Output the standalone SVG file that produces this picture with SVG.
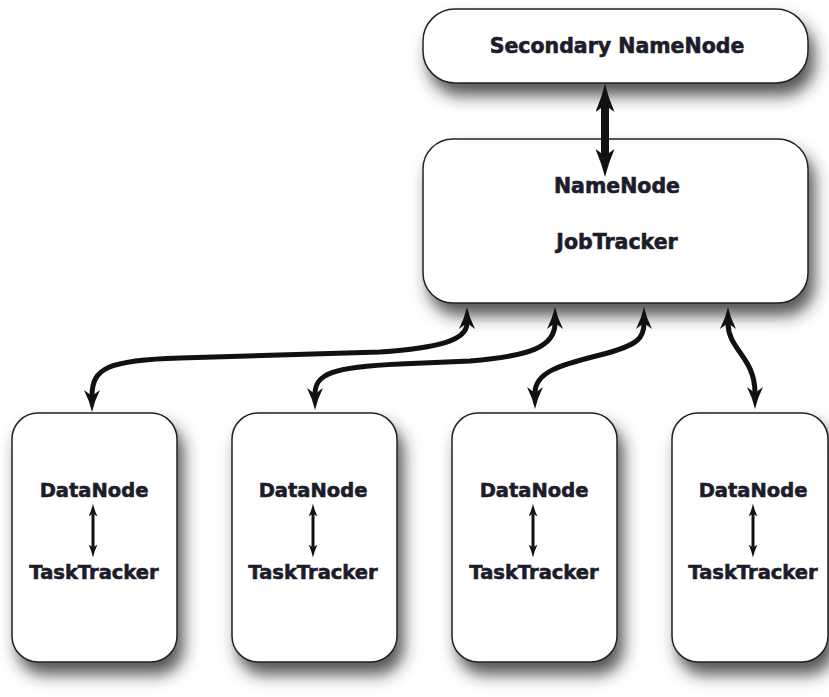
<svg xmlns="http://www.w3.org/2000/svg" width="829" height="697" viewBox="0 0 829 697">
<defs>
<filter id="sh" x="-20%" y="-20%" width="150%" height="160%">
<feDropShadow dx="6" dy="12" stdDeviation="8" flood-color="#2a2a2a" flood-opacity="0.8"/>
</filter>
<marker id="ah" viewBox="0 0 22 16" refX="6" refY="8" markerWidth="22" markerHeight="16" markerUnits="userSpaceOnUse" orient="auto-start-reverse">
<path d="M0,0 Q11,5.5 22,8 Q11,10.5 0,16 L6,8 Z" fill="#111"/>
</marker>
<marker id="ahs" viewBox="0 0 13 9" refX="3" refY="4.5" markerWidth="13" markerHeight="9" markerUnits="userSpaceOnUse" orient="auto-start-reverse">
<path d="M0,0 Q6,3 13,4.5 Q6,6 0,9 L3,4.5 Z" fill="#111"/>
</marker>
<marker id="ahb" viewBox="0 0 28 19" refX="7" refY="9.5" markerWidth="28" markerHeight="19" markerUnits="userSpaceOnUse" orient="auto-start-reverse">
<path d="M0,0 Q14,6 28,9.5 Q14,13 0,19 L7,9.5 Z" fill="#111"/>
</marker>
</defs>
<style>
.box{fill:#fff;stroke:#222;stroke-width:1.5;filter:url(#sh)}
.t{font-family:"DejaVu Sans","Liberation Sans",sans-serif;font-weight:bold;fill:#1c1c2a;stroke:#1c1c2a;stroke-width:0.6;text-anchor:middle}
.big{font-size:20.5px}
.sm{font-size:19.5px}
.c{fill:none;stroke:#111;stroke-width:5;marker-start:url(#ah);marker-end:url(#ah)}
.ci{fill:none;stroke:#111;stroke-width:3;marker-start:url(#ahs);marker-end:url(#ahs)}
</style>
<rect width="829" height="697" fill="#fff"/>
<g id="secondary-namenode">
<rect class="box" x="423" y="9" width="385" height="74" rx="32"/>
<text class="t big" x="617" y="53">Secondary NameNode</text>
</g>
<g id="namenode">
<rect class="box" x="423" y="139" width="385" height="164" rx="30"/>
<text class="t big" x="617" y="193">NameNode</text>
<text class="t big" x="617" y="249">JobTracker</text>
</g>
<g id="worker1">
<rect class="box" x="12" y="413" width="165" height="249" rx="26"/>
<text class="t sm" x="94" y="497">DataNode</text>
<text class="t sm" x="94" y="579">TaskTracker</text>
</g>
<g id="worker2">
<rect class="box" x="232" y="413" width="165" height="249" rx="26"/>
<text class="t sm" x="313" y="497">DataNode</text>
<text class="t sm" x="313" y="579">TaskTracker</text>
</g>
<g id="worker3">
<rect class="box" x="452" y="413" width="165" height="249" rx="26"/>
<text class="t sm" x="534" y="497">DataNode</text>
<text class="t sm" x="534" y="579">TaskTracker</text>
</g>
<g id="worker4">
<rect class="box" x="672" y="413" width="156" height="249" rx="26"/>
<text class="t sm" x="753" y="497">DataNode</text>
<text class="t sm" x="753" y="579">TaskTracker</text>
</g>
<g id="connectors">
<path d="M605,105 L605,156" fill="none" stroke="#111" stroke-width="8" style="marker-start:url(#ahb);marker-end:url(#ahb)"/>
<path class="c" d="M92,396 C92,368 108,360 180,358 L380,352 C440,348 467,340 467,323"/>
<path class="c" d="M315,394 C315,374 332,367 400,364 L470,361 C530,356 555,347 555,323"/>
<path class="c" d="M535,393 C535,372 560,365 600,355 C640,345 644,337 644,323"/>
<path class="c" d="M728,323 C728,350 755,357 755,393"/>
<path class="ci" d="M93,513.5 L93,547.5"/>
<path class="ci" d="M313,513.5 L313,547.5"/>
<path class="ci" d="M533,513.5 L533,547.5"/>
<path class="ci" d="M753,513.5 L753,547.5"/>
</g>
</svg>
